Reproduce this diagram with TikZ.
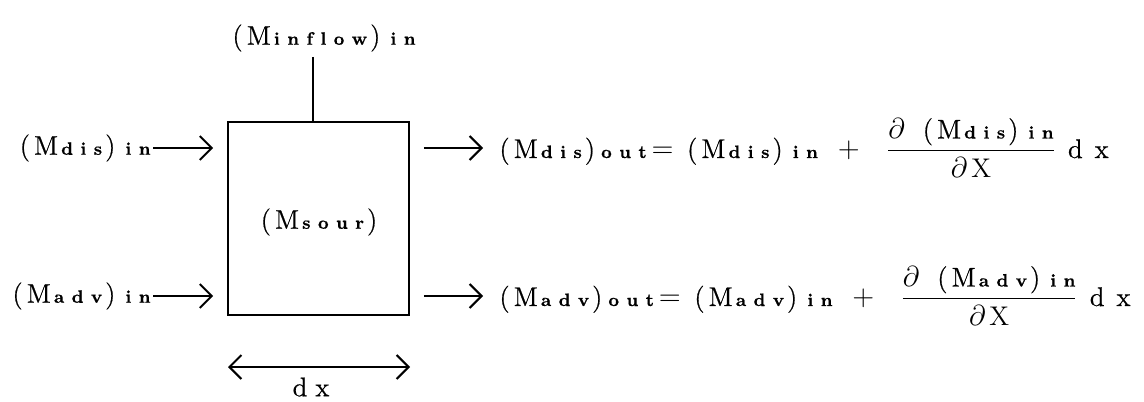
\documentclass[tikz,border=0pt]{standalone}
\usepackage{amsmath}
\usepackage{fontspec}
\usetikzlibrary{arrows.meta}
\newfontfamily\heavyrm{Latin Modern Roman}[FakeBold=0.6]
\newlength\lsp \setlength\lsp{3.7pt}
\def\spaced#1{\spacedA#1\relax}
\def\spacedA#1{#1\spacedB}
\def\spacedB#1{\ifx\relax#1\else\kern\lsp#1\expandafter\spacedB\fi}
% subscript: small, bold, widely spaced letters
\newcommand{\sbs}[1]{{\fontsize{9}{10}\selectfont\bfseries\spaced{#1}}}
% bracketed quantity (M_x)
\newcommand{\Mq}[1]{(\kern2pt M\kern1.5pt\sbs{#1}\kern1.5pt)}
\newcommand{\low}[1]{\kern5pt\sbs{#1}}
\tikzset{
  lbl/.style={inner sep=0pt, font=\heavyrm\fontsize{13.5}{15}\selectfont},
  flow/.style={line width=1pt, -{Straight Barb[length=6pt,width=12pt,line width=1pt]}},
  dimline/.style={line width=1pt, {Straight Barb[length=6pt,width=12pt,line width=1pt]}-{Straight Barb[length=6pt,width=12pt,line width=1pt]}},
}
\begin{document}
\begin{tikzpicture}[x=0.5pt,y=-0.5pt]
\useasboundingbox (0,0) rectangle (1144,401);
% control volume
\node[draw, line width=0.8pt, minimum width=90.5pt, minimum height=96.5pt, inner sep=0pt] (box) at (318.5,218.5) {};
\node[lbl] (sour) at (319,222) {\Mq{sour}};
% inflow
\node[lbl] (inflow) at (324,38) {\Mq{inflow}\low{in}};
\coordinate (inflowtop) at (313,57);
\draw[line width=0.8pt] (inflowtop) -- (inflowtop |- box.north);
% left inputs
\node[lbl, anchor=east] (ldis) at (151,148) {\Mq{dis}\low{in}};
\node[lbl, anchor=east] (ladv) at (151,296) {\Mq{adv}\low{in}};
\draw[flow, shorten >=7pt, shorten <=1pt] (ldis.east) -- (ldis.east -| box.west);
\draw[flow, shorten >=7pt, shorten <=1pt] (ladv.east) -- (ladv.east -| box.west);
% right outputs
\node[lbl, anchor=west] (rdis) at (499,148) {\Mq{dis}\kern3pt\sbs{out}$\,=\,$ \Mq{dis}\low{in}\kern10pt$+$\kern13pt$\dfrac{\partial\kern9pt\mbox{\Mq{dis}\low{in}}}{\partial\kern2pt\mathrm{X}}$\kern6pt d\kern6pt x};
\node[lbl, anchor=west] (radv) at (499,296) {\Mq{adv}\kern3pt\sbs{out}$\,=\,$ \Mq{adv}\low{in}\kern10pt$+$\kern13pt$\dfrac{\partial\kern9pt\mbox{\Mq{adv}\low{in}}}{\partial\kern2pt\mathrm{X}}$\kern6pt d\kern6pt x};
\draw[flow, shorten <=7pt, shorten >=8pt] (box.east |- rdis.west) -- (rdis.west);
\draw[flow, shorten <=7pt, shorten >=8pt] (box.east |- radv.west) -- (radv.west);
% width dx
\coordinate (dxl) at (228,367);
\coordinate (dxr) at (410,367);
\draw[dimline] (dxl) -- (dxr);
\node[lbl] (dx) at (311,387) {d\kern4pt x};
\end{tikzpicture}
\end{document}
